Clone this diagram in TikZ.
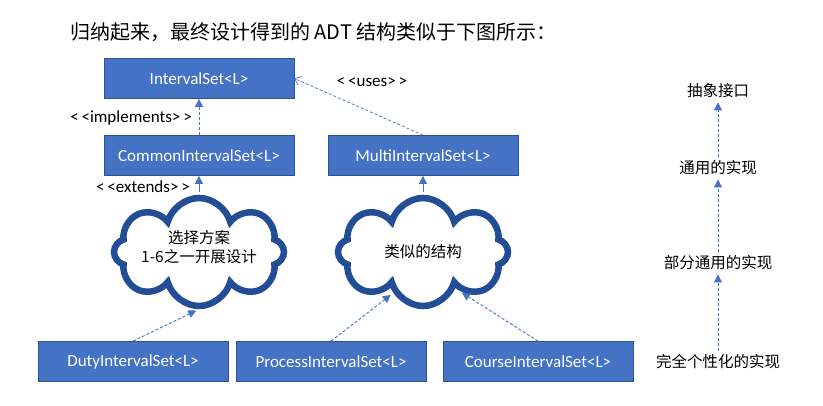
\documentclass[tikz,border=0pt]{standalone}
\usepackage{fontspec}
\setmainfont{Carlito}
\newfontfamily\cjk{Noto Sans CJK SC}
\usetikzlibrary{shapes.symbols,arrows.meta}
\definecolor{boxblue}{HTML}{4472C4}
\definecolor{boxedge}{HTML}{2F528F}
\definecolor{cloudedge}{HTML}{234D97}
\definecolor{arrowblue}{HTML}{4472C4}
\begin{document}
\begin{tikzpicture}[x=1pt,y=-1pt,
  cls/.style={draw=boxedge, fill=boxblue, text=white, line width=0.8pt,
    minimum width=190pt, minimum height=40pt, inner sep=0pt,
    font=\fontsize{17}{20}\selectfont},
  cloudshape/.style={cloud, cloud puffs=8, cloud puff arc=150, cloud ignores aspect,
    draw=cloudedge, line width=6.5pt, fill=white,
    minimum width=170pt, minimum height=108pt, inner sep=0pt},
  cloudtext/.style={font=\cjk\fontsize{15.5}{18.5}\selectfont, align=center, inner sep=0pt},
  stereo/.style={font=\fontsize{17}{20}\selectfont, inner sep=0pt},
  level/.style={font=\cjk\fontsize{15.5}{19}\selectfont, inner sep=4pt},
  dasharrow/.style={draw=arrowblue, line width=0.9pt, dash pattern=on 3pt off 2pt,
    -{Triangle[length=8pt,width=8pt]}},
  solidarrow/.style={draw=arrowblue, line width=0.9pt, -{Triangle[length=8pt,width=8pt]}},
  usesarrow/.style={draw=arrowblue, line width=0.7pt, dash pattern=on 3pt off 2pt,
    -{Straight Barb[length=5pt,width=9pt]}},
]
\useasboundingbox (0,0) rectangle (823,406);

\node[anchor=west, inner sep=0pt, font=\cjk\fontsize{20}{23}\selectfont] (title) at (70,32)
  {归纳起来，最终设计得到的 ADT 结构类似于下图所示：};

\node[cls] (iset) at (199,78.5) {IntervalSet<L>};
\node[cls] (common) at (199,155.5) {CommonIntervalSet<L>};
\node[cls] (multi) at (423,155.5) {MultiIntervalSet<L>};
\node[cls] (duty) at (133,361.5) {DutyIntervalSet<L>};
\node[cls] (process) at (331,361.5) {ProcessIntervalSet<L>};
\node[cls] (course) at (538,361.5) {CourseIntervalSet<L>};

\node[cloudshape] (cloud1) at (199,252) {};
\node[cloudtext] (cloud1t) at (199,247) {选择方案\\1-6之一开展设计};
\node[cloudshape] (cloud2) at (423,252) {};
\node[cloudtext] (cloud2t) at (423,252) {类似的结构};

\node[stereo] (impl) at (131,118) {<\,<implements>\,>};
\node[stereo] (ext) at (143,187) {<\,<extends>\,>};
\node[stereo] (uses) at (372,82) {<\,<uses>\,>};

\draw[dasharrow] (common) -- (iset);
\draw[usesarrow] (multi.north) -- (iset.east);
\draw[solidarrow] (cloud1.north) ++(0,-3) -- (common.south);
\draw[solidarrow] (cloud2.north) ++(0,-3) -- (multi.south);
\draw[dasharrow, shorten >=3pt] (duty.north) -- (cloud1.south);
\draw[dasharrow, shorten >=3pt] (process.north) -- (cloud2.234);
\draw[dasharrow, shorten >=3pt] (course.north) -- (cloud2.313);

\node[level] (l1) at (718,91) {抽象接口};
\node[level] (l2) at (718,168) {通用的实现};
\node[level] (l3) at (718,263) {部分通用的实现};
\node[level] (l4) at (718,362) {完全个性化的实现};
\draw[dasharrow] (l4) -- (l3);
\draw[dasharrow] (l3) -- (l2);
\draw[dasharrow] (l2) -- (l1);
\end{tikzpicture}
\end{document}
